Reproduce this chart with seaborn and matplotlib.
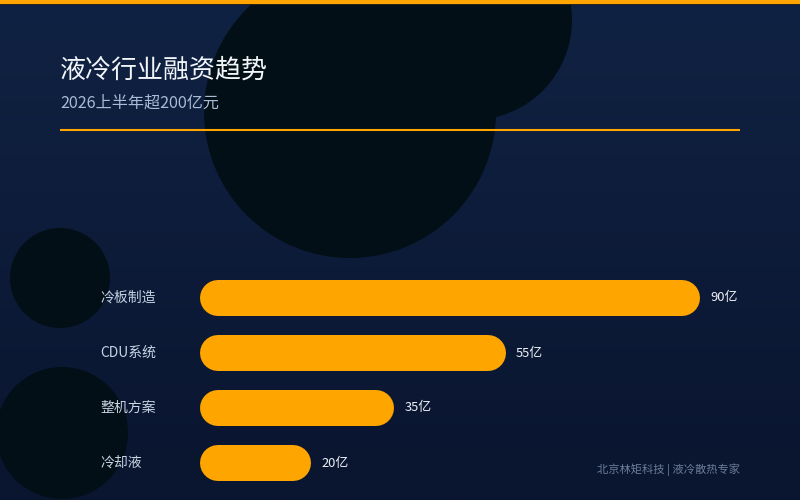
import numpy as np
import pandas as pd
import matplotlib
matplotlib.use("Agg")
import matplotlib.pyplot as plt
import seaborn as sns
from matplotlib.patches import Circle, Rectangle
from matplotlib import transforms

# Data
categories = ["冷板制造", "CDU系统", "整机方案", "冷却液"]
values = [90, 55, 35, 20]
value_labels = ["90亿", "55亿", "35亿", "20亿"]

title = "液冷行业融资趋势"
subtitle = "2026上半年超200亿元"
footer = "北京林矩科技 | 液冷散热专家"

sns.set_theme(style="white")
plt.rcParams["font.family"] = ["Noto Sans CJK SC", "DejaVu Sans"]

W, H = 800, 500
fig = plt.figure(figsize=(8, 5), dpi=100)

# background layer in pixel coords
bg = fig.add_axes([0, 0, 1, 1])
bg.set_xlim(0, W)
bg.set_ylim(H, 0)
bg.axis("off")
top_c = np.array([0x10, 0x22, 0x43]) / 255
bot_c = np.array([0x0a, 0x15, 0x2f]) / 255
t = np.linspace(0, 1, 256)[:, None]
grad = (top_c[None, :] * (1 - t) + bot_c[None, :] * t)[:, None, :]
bg.imshow(grad, extent=[0, W, H, 0], aspect="auto", zorder=0)

circ_col = "#020f16"
for (cx, cy, r) in [(350, 112, 146), (472, 20, 100), (60, 278, 50), (62, 433, 66)]:
    bg.add_patch(Circle((cx, cy), r, color=circ_col, lw=0, zorder=1))

bg.add_patch(Rectangle((0, 0), W, 4, color="#FFA500", lw=0, zorder=3))
bg.add_patch(Rectangle((0, 4), W, 1, color="#2a2418", lw=0, zorder=3))
bg.plot([60, 740], [130, 130], color="#FFA500", lw=1.5, zorder=3, solid_capstyle="butt")

bg.text(60, 70, title, color="#f2f5f9", fontsize=18.7, va="center", ha="left", zorder=4)
bg.text(60, 103, subtitle, color="#a9bcd6", fontsize=11.6, va="center", ha="left", zorder=4)
bg.text(740, 470, footer, color="#6d7e98", fontsize=8.1, va="center", ha="right", zorder=4)

# bar chart axes: x 200..740 px, rows centred at 298, 353, 408, 463 px
ax_left, ax_right = 200, 740
ax_top, ax_bot = 270.5, 490.5
ax = fig.add_axes([ax_left / W, 1 - ax_bot / H, (ax_right - ax_left) / W, (ax_bot - ax_top) / H])
ax.patch.set_alpha(0)
px_per_unit = 500 / 90
xmax = (ax_right - ax_left) / px_per_unit

df = pd.DataFrame({"cat": categories, "val": values})
sns.barplot(data=df, x="val", y="cat", orient="h", color="#FFA500", width=36 / 55,
            saturation=1, ax=ax)
ax.set_xlim(0, xmax)
ax.set_ylim(len(categories) - 0.5, -0.5)
ax.axis("off")

# turn bars into rounded pills (thick line with round caps, 36 px tall)
bar_px = 36
x_upp = xmax / (ax_right - ax_left)
r = bar_px / 2 * x_upp
for p in list(ax.patches):
    x0, y0, w, h = p.get_x(), p.get_y(), p.get_width(), p.get_height()
    p.remove()
    yc = y0 + h / 2
    ax.plot([x0 + r, x0 + w - r], [yc, yc], color="#FFA500",
            lw=bar_px * 72 / fig.dpi, solid_capstyle="round", zorder=2)

lab_tr = transforms.blended_transform_factory(fig.transFigure, ax.transData)
for i, (c, v, vl) in enumerate(zip(categories, values, value_labels)):
    ax.text(100 / W, i, c, transform=lab_tr, color="#c9d4e3", fontsize=10,
            va="center", ha="left")
    ax.annotate(vl, (v, i), xytext=(7.2, 0), textcoords="offset points",
                color="#eef2f7", fontsize=9.3, va="center", ha="left")

fig.savefig("out.png", dpi=100)
